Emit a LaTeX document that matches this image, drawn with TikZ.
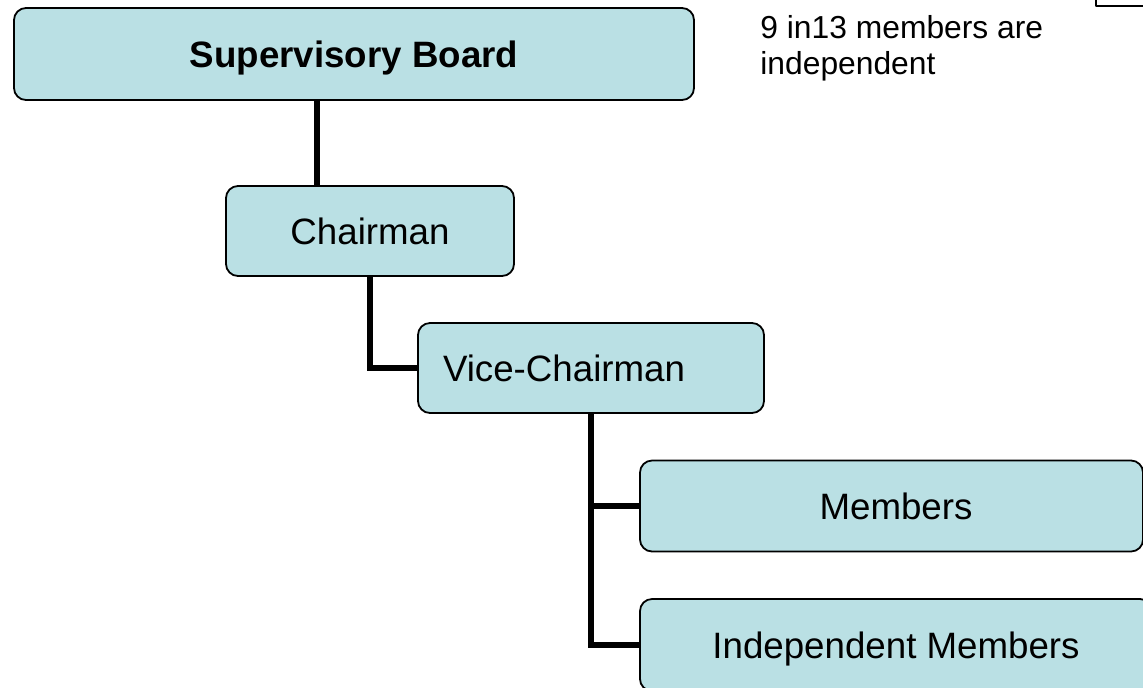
\documentclass[tikz,border=0pt]{standalone}
\usepackage{fontspec}
\setmainfont{Liberation Sans}
\usetikzlibrary{calc}
\definecolor{boxfill}{RGB}{186,224,228}
\begin{document}
\begin{tikzpicture}[x=0.5pt,y=-0.5pt,line cap=round,line join=round,
  box/.style={draw=black,line width=0.9pt,fill=boxfill,rounded corners=6pt,
    inner sep=0pt,text depth=0pt,font=\fontsize{18.35}{22}\selectfont},
  conn/.style={line width=2.9pt,line cap=butt,line join=miter}]
\clip (0,0) rectangle (1143,687);
\useasboundingbox (0,0) rectangle (1143,687);

% boxes
\node[box,minimum width=340pt,minimum height=46pt,font=\fontsize{18.35}{22}\selectfont\bfseries] (board) at (354,54) {Supervisory Board};
\node[box,minimum width=144pt,minimum height=45pt] (chair) at (370,231) {Chairman};
\node[box,minimum height=45pt,text width=148pt,inner xsep=12.5pt,align=left] (vice) at (591,368) {Vice-Chairman};
\node[box,minimum width=251.5pt,minimum height=45.5pt] (members) at (891.5,506) {\hspace*{4.5pt}Members};
\node[box,minimum width=256pt,minimum height=46pt] (indep) at (896,645) {Independent Members};

% note
\node[anchor=north west,inner sep=0pt,align=left,font=\fontsize{15.9}{18}\selectfont] (note) at (760,15) {9 in13 members are\\independent};
\draw [line width=0.9pt] (1096,-20) -- (1096,6) -- (1160,6);

% connectors
\coordinate (chairtop) at ($(chair.north west)!0.316!(chair.north east)$);
\draw[conn] (chairtop) -- (chairtop |- board.south);
\draw[conn] (chair.south) |- (vice.west);
\draw[conn] (vice.south) |- (members.west);
\draw[conn] (vice.south) |- (indep.west);
\end{tikzpicture}
\end{document}
